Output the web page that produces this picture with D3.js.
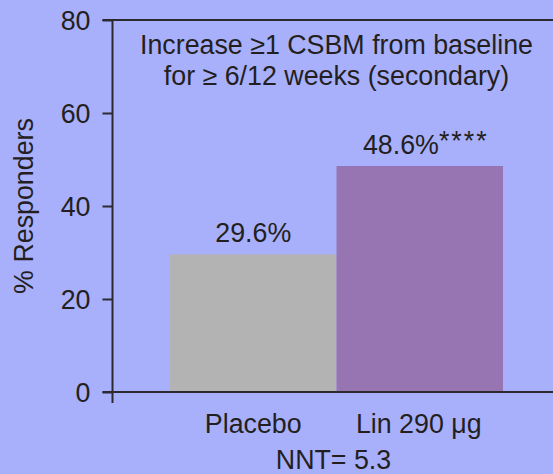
<!DOCTYPE html>
<html>
<head>
<meta charset="utf-8">
<script src="https://cdn.jsdelivr.net/npm/d3@7/dist/d3.min.js"></script>
<style>
  html, body { margin: 0; padding: 0; background: #a9b0fb; }
  svg { display: block; }
  text { font-family: "Liberation Sans", Arial, Helvetica, sans-serif; fill: #231f20; }
</style>
</head>
<body>
<svg id="chart" width="553" height="474"></svg>
<script>
const categories = ["Placebo", "Lin 290 μg"];
const values = [29.6, 48.6];
const valueLabels = ["29.6%", "48.6%"];
const significance = ["", "****"];
const barColors = ["#b3b3b3", "#9775b2"];
const yTicks = [0, 20, 40, 60, 80];
const titleLines = ["Increase ≥1 CSBM from baseline", "for ≥ 6/12 weeks (secondary)"];
const yTitle = "% Responders";
const footnote = "NNT= 5.3";

const W = 553, H = 474;
const svg = d3.select("#chart");
const axisColor = "#2b2a2e";
const fs = 26.8;

const x = d3.scaleBand().domain(categories).range([170, 503]).padding(0);
const y = d3.scaleLinear().domain([0, 80]).range([392, 20]);
const axisX = 112.5;

// bars
svg.selectAll("rect.bar").data(categories).enter().append("rect")
  .attr("class", "bar")
  .attr("x", d => x(d))
  .attr("width", x.bandwidth())
  .attr("y", (d, i) => y(values[i]))
  .attr("height", (d, i) => y(0) - y(values[i]))
  .attr("fill", (d, i) => barColors[i]);

// top & bottom frame lines
svg.append("line").attr("x1", axisX - 10).attr("x2", W).attr("y1", y(80)).attr("y2", y(80))
  .attr("stroke", axisColor).attr("stroke-width", 2);
svg.append("line").attr("x1", axisX - 10).attr("x2", W).attr("y1", y(0)).attr("y2", y(0))
  .attr("stroke", axisColor).attr("stroke-width", 2);

// y axis
const yAxis = d3.axisLeft(y).tickValues(yTicks).tickSize(10).tickSizeOuter(0).tickPadding(12);
const gy = svg.append("g").attr("transform", `translate(${axisX},0)`).call(yAxis);
gy.select(".domain").remove();
gy.selectAll(".tick line").attr("stroke", axisColor).attr("stroke-width", 2);
gy.selectAll(".tick text").attr("font-size", fs).attr("font-family", "Liberation Sans, Arial, sans-serif")
  .attr("fill", "#231f20").attr("dy", "0.36em");
gy.append("line").attr("x1", 0).attr("x2", 0).attr("y1", y(80)).attr("y2", y(0) + 11)
  .attr("stroke", axisColor).attr("stroke-width", 2);

// y title
svg.append("text")
  .attr("transform", `translate(33,${(y(0) + y(80)) / 2}) rotate(-90)`)
  .attr("text-anchor", "middle").attr("font-size", fs)
  .text(yTitle);

// chart title
const cx = (x.range()[0] + x.range()[1]) / 2;
titleLines.forEach((t, i) => {
  svg.append("text").attr("x", cx).attr("y", 54 + i * 31)
    .attr("text-anchor", "middle").attr("font-size", fs).text(t);
});

// value labels
categories.forEach((c, i) => {
  const t = svg.append("text")
    .attr("x", x(c) + x.bandwidth() / 2 + (significance[i] ? 6 : 0))
    .attr("y", y(values[i]) - 12)
    .attr("text-anchor", "middle").attr("font-size", fs);
  t.append("tspan").text(valueLabels[i]);
  if (significance[i]) {
    t.append("tspan").attr("dy", -4).attr("letter-spacing", 2).text(significance[i]);
  }
});

// x category labels
categories.forEach((c, i) => {
  svg.append("text").attr("x", x(c) + x.bandwidth() / 2 + (i === 0 ? 0 : -1))
    .attr("y", 433).attr("text-anchor", "middle").attr("font-size", fs).text(c);
});

// footnote
svg.append("text").attr("x", cx - 3).attr("y", 469)
  .attr("text-anchor", "middle").attr("font-size", fs).text(footnote);
</script>
</body>
</html>
